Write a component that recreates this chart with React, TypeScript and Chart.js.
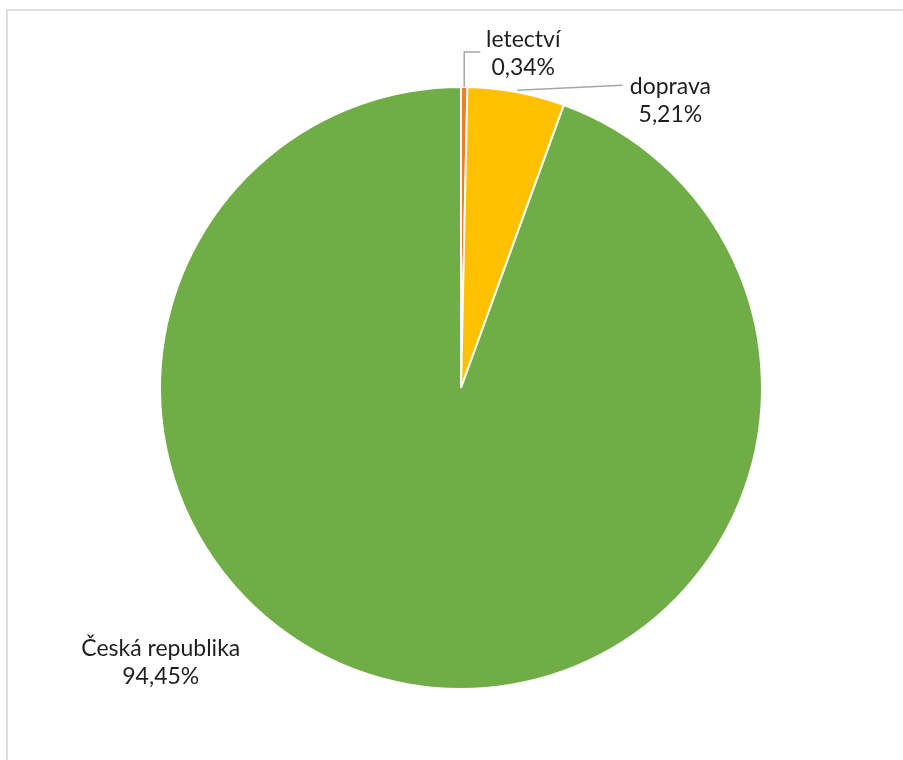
import React, { useEffect, useRef } from "react";
import { Chart, registerables } from "chart.js";

Chart.register(...registerables);

const categories = ["letectví", "doprava", "Česká republika"];
const values = [0.34, 5.21, 94.45];
const valueLabels = ["0,34%", "5,21%", "94,45%"];
const colors = ["#ED7D31", "#FFC000", "#70AD47"];

const FONT = "Lato";

const labelPlugin = {
  id: "sliceLabels",
  afterDatasetsDraw(chart: any) {
    const ctx = chart.ctx;
    const meta = chart.getDatasetMeta(0);
    ctx.save();
    ctx.font = `23px ${FONT}`;
    ctx.fillStyle = "#1f1f1f";
    ctx.textAlign = "center";
    ctx.textBaseline = "middle";
    ctx.strokeStyle = "#a6a6a6";
    ctx.lineWidth = 1.5;
    meta.data.forEach((arc: any, i: number) => {
      const { x, y, startAngle, endAngle, outerRadius } = arc.getProps(
        ["x", "y", "startAngle", "endAngle", "outerRadius"],
        true
      );
      const mid = (startAngle + endAngle) / 2;
      const ex = x + Math.cos(mid) * outerRadius;
      const ey = y + Math.sin(mid) * outerRadius;
      let tx = ex;
      let ty = ey;
      if (i === 0) {
        ctx.beginPath();
        ctx.moveTo(ex, ey);
        ctx.lineTo(ex, ey - 35);
        ctx.lineTo(ex + 16, ey - 35);
        ctx.stroke();
        tx = ex + 59;
        ty = ey - 47;
      } else if (i === 1) {
        ctx.beginPath();
        ctx.moveTo(ex + 1, ey - 2);
        ctx.lineTo(ex + 106, ey - 7);
        ctx.stroke();
        tx = ex + 154;
        ty = ey - 6;
      } else {
        tx = ex - 248;
        ty = ey - 36;
      }
      ctx.fillText(categories[i], tx, ty);
      ctx.fillText(valueLabels[i], tx, ty + 28);
    });
    ctx.restore();
  },
};

export default function App() {
  const ref = useRef<HTMLCanvasElement>(null);
  useEffect(() => {
    if (!ref.current) return;
    const chart = new Chart(ref.current, {
      type: "pie",
      data: {
        labels: categories,
        datasets: [
          {
            data: values,
            backgroundColor: colors,
            borderColor: "#ffffff",
            borderWidth: 2,
          },
        ],
      },
      options: {
        animation: false,
        responsive: false,
        layout: { padding: { top: 86, bottom: 70, left: 159, right: 140 } },
        plugins: {
          legend: { display: false },
          tooltip: { enabled: false },
        },
      },
      plugins: [labelPlugin],
    });
    return () => chart.destroy();
  }, []);
  return (
    <div style={{ position: "fixed", inset: 0, overflow: "hidden", background: "#fff" }}>
      <div
        style={{
          position: "absolute",
          left: 6,
          top: 9,
          width: 1000,
          height: 900,
          border: "2px solid #dedede",
        }}
      />
      <canvas
        ref={ref}
        width={903}
        height={760}
        style={{ position: "absolute", left: 0, top: 0, width: 903, height: 760 }}
      />
    </div>
  );
}
